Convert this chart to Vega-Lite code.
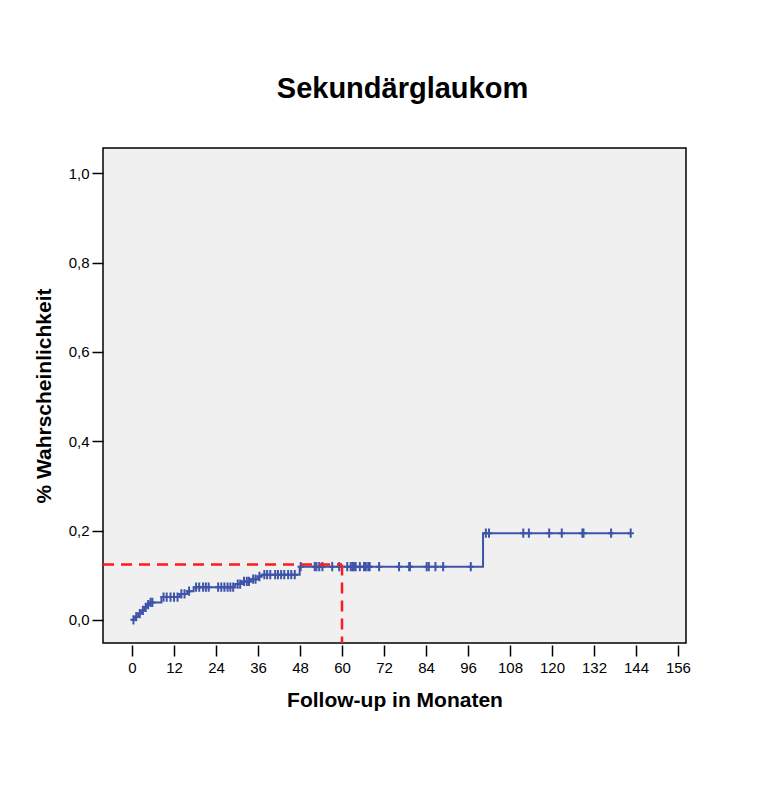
{
  "$schema": "https://vega.github.io/schema/vega-lite/v6.json",
  "width": 583,
  "height": 495,
  "autosize": {"type": "none"},
  "padding": {"left": 103, "top": 148, "right": 85, "bottom": 144},
  "background": "white",
  "title": {
    "text": "Sekundärglaukom",
    "font": "Liberation Sans",
    "fontSize": 29,
    "fontWeight": "bold",
    "color": "black",
    "offset": 44,
    "dx": 8
  },
  "config": {
    "view": {"fill": "#f0f0f0", "stroke": "black", "strokeWidth": 1.5},
    "font": "Liberation Sans",
    "axis": {
      "grid": false,
      "domain": false,
      "tickColor": "black",
      "tickWidth": 1.5,
      "tickSize": 11,
      "labelFont": "Liberation Sans",
      "labelFontSize": 15,
      "labelColor": "black",
      "titleFont": "Liberation Sans",
      "titleFontSize": 21,
      "titleFontWeight": "bold",
      "titleColor": "black"
    }
  },
  "datasets": {
    "km": [
      {"t": 0, "p": 0, "c": 0},
      {"t": 0.4, "p": 0, "c": 1},
      {"t": 0.9, "p": 0.007, "c": 0},
      {"t": 1.2, "p": 0.007, "c": 1},
      {"t": 1.8, "p": 0.014, "c": 0},
      {"t": 2.2, "p": 0.014, "c": 1},
      {"t": 2.8, "p": 0.021, "c": 0},
      {"t": 3.1, "p": 0.021, "c": 1},
      {"t": 3.6, "p": 0.028, "c": 0},
      {"t": 3.9, "p": 0.028, "c": 1},
      {"t": 4.3, "p": 0.034, "c": 0},
      {"t": 4.6, "p": 0.034, "c": 1},
      {"t": 5.0, "p": 0.039, "c": 0},
      {"t": 5.3, "p": 0.039, "c": 1},
      {"t": 5.8, "p": 0.039, "c": 1},
      {"t": 8.4, "p": 0.051, "c": 0},
      {"t": 9.0, "p": 0.051, "c": 1},
      {"t": 9.9, "p": 0.051, "c": 1},
      {"t": 11.0, "p": 0.051, "c": 1},
      {"t": 12.0, "p": 0.051, "c": 1},
      {"t": 13.0, "p": 0.051, "c": 1},
      {"t": 13.6, "p": 0.058, "c": 0},
      {"t": 14.1, "p": 0.058, "c": 1},
      {"t": 15.0, "p": 0.058, "c": 1},
      {"t": 15.8, "p": 0.064, "c": 0},
      {"t": 16.3, "p": 0.064, "c": 1},
      {"t": 17.6, "p": 0.073, "c": 0},
      {"t": 18.3, "p": 0.073, "c": 1},
      {"t": 19.2, "p": 0.073, "c": 1},
      {"t": 20.3, "p": 0.073, "c": 1},
      {"t": 21.1, "p": 0.073, "c": 1},
      {"t": 21.9, "p": 0.073, "c": 1},
      {"t": 24.6, "p": 0.073, "c": 1},
      {"t": 25.5, "p": 0.073, "c": 1},
      {"t": 26.4, "p": 0.073, "c": 1},
      {"t": 27.3, "p": 0.073, "c": 1},
      {"t": 28.1, "p": 0.073, "c": 1},
      {"t": 28.9, "p": 0.073, "c": 1},
      {"t": 29.5, "p": 0.080, "c": 0},
      {"t": 30.2, "p": 0.080, "c": 1},
      {"t": 30.9, "p": 0.080, "c": 1},
      {"t": 31.4, "p": 0.086, "c": 0},
      {"t": 32.0, "p": 0.086, "c": 1},
      {"t": 32.8, "p": 0.086, "c": 1},
      {"t": 33.4, "p": 0.086, "c": 1},
      {"t": 33.9, "p": 0.091, "c": 0},
      {"t": 34.6, "p": 0.091, "c": 1},
      {"t": 35.3, "p": 0.091, "c": 1},
      {"t": 36.0, "p": 0.097, "c": 0},
      {"t": 36.4, "p": 0.097, "c": 1},
      {"t": 37.0, "p": 0.101, "c": 0},
      {"t": 37.8, "p": 0.101, "c": 1},
      {"t": 38.6, "p": 0.101, "c": 1},
      {"t": 39.5, "p": 0.101, "c": 1},
      {"t": 40.9, "p": 0.101, "c": 1},
      {"t": 41.7, "p": 0.101, "c": 1},
      {"t": 42.6, "p": 0.101, "c": 1},
      {"t": 43.5, "p": 0.101, "c": 1},
      {"t": 44.6, "p": 0.101, "c": 1},
      {"t": 45.5, "p": 0.101, "c": 1},
      {"t": 46.5, "p": 0.101, "c": 1},
      {"t": 47.9, "p": 0.119, "c": 0},
      {"t": 48.2, "p": 0.119, "c": 1},
      {"t": 52.2, "p": 0.119, "c": 1},
      {"t": 52.7, "p": 0.119, "c": 1},
      {"t": 53.5, "p": 0.119, "c": 1},
      {"t": 54.4, "p": 0.119, "c": 1},
      {"t": 57.2, "p": 0.119, "c": 1},
      {"t": 59.2, "p": 0.119, "c": 1},
      {"t": 61.5, "p": 0.119, "c": 1},
      {"t": 62.5, "p": 0.119, "c": 1},
      {"t": 63.0, "p": 0.119, "c": 1},
      {"t": 63.4, "p": 0.119, "c": 1},
      {"t": 63.9, "p": 0.119, "c": 1},
      {"t": 65.1, "p": 0.119, "c": 1},
      {"t": 66.3, "p": 0.119, "c": 1},
      {"t": 66.8, "p": 0.119, "c": 1},
      {"t": 67.5, "p": 0.119, "c": 1},
      {"t": 67.9, "p": 0.119, "c": 1},
      {"t": 70.6, "p": 0.119, "c": 1},
      {"t": 76.3, "p": 0.119, "c": 1},
      {"t": 79.2, "p": 0.119, "c": 1},
      {"t": 79.4, "p": 0.119, "c": 1},
      {"t": 84.2, "p": 0.119, "c": 1},
      {"t": 84.8, "p": 0.119, "c": 1},
      {"t": 86.7, "p": 0.119, "c": 1},
      {"t": 88.9, "p": 0.119, "c": 1},
      {"t": 96.8, "p": 0.119, "c": 1},
      {"t": 100.3, "p": 0.194, "c": 0},
      {"t": 101.1, "p": 0.194, "c": 1},
      {"t": 102.0, "p": 0.194, "c": 1},
      {"t": 111.8, "p": 0.194, "c": 1},
      {"t": 113.4, "p": 0.194, "c": 1},
      {"t": 119.2, "p": 0.194, "c": 1},
      {"t": 122.8, "p": 0.194, "c": 1},
      {"t": 128.7, "p": 0.194, "c": 1},
      {"t": 129.0, "p": 0.194, "c": 1},
      {"t": 136.9, "p": 0.194, "c": 1},
      {"t": 142.5, "p": 0.194, "c": 1}
    ],
    "marker": [
      {"t0": -8.3, "t1": 60, "p": 0.124, "p0": -0.052}
    ]
  },
  "layer": [
    {
      "data": {"name": "km"},
      "mark": {"type": "line", "interpolate": "step-after", "color": "#3f54a8", "strokeWidth": 2},
      "encoding": {
        "x": {
          "field": "t",
          "type": "quantitative",
          "scale": {"domain": [-8.3, 158.3], "nice": false, "zero": false},
          "axis": {
            "title": "Follow-up in Monaten",
            "values": [0, 12, 24, 36, 48, 60, 72, 84, 96, 108, 120, 132, 144, 156],
            "offset": 2,
            "labelPadding": 4,
            "titlePadding": 14
          }
        },
        "y": {
          "field": "p",
          "type": "quantitative",
          "scale": {"domain": [-0.052, 1.057], "nice": false, "zero": false},
          "axis": {
            "title": "% Wahrscheinlichkeit",
            "values": [0, 0.2, 0.4, 0.6, 0.8, 1.0],
            "labelExpr": "replace(format(datum.value, '.1f'), '.', ',')",
            "labelPadding": 3,
            "titlePadding": 14
          }
        },
        "order": {"field": "t", "type": "quantitative"}
      }
    },
    {
      "data": {"name": "km"},
      "transform": [{"filter": "datum.c == 1"}],
      "mark": {
        "type": "point",
        "shape": "M-0.68,0H0.68M0,-1V1",
        "filled": false,
        "color": "#3f54a8",
        "strokeWidth": 2,
        "size": 86,
        "opacity": 1
      },
      "encoding": {
        "x": {"field": "t", "type": "quantitative"},
        "y": {"field": "p", "type": "quantitative"}
      }
    },
    {
      "data": {"name": "marker"},
      "mark": {"type": "rule", "color": "#ff1a1a", "strokeWidth": 2.5, "strokeDash": [11, 7]},
      "encoding": {
        "x": {"field": "t0", "type": "quantitative"},
        "x2": {"field": "t1"},
        "y": {"field": "p", "type": "quantitative"}
      }
    },
    {
      "data": {"name": "marker"},
      "mark": {"type": "rule", "color": "#ff1a1a", "strokeWidth": 2.5, "strokeDash": [11, 7]},
      "encoding": {
        "x": {"field": "t1", "type": "quantitative"},
        "y": {"field": "p", "type": "quantitative"},
        "y2": {"field": "p0"}
      }
    }
  ]
}
